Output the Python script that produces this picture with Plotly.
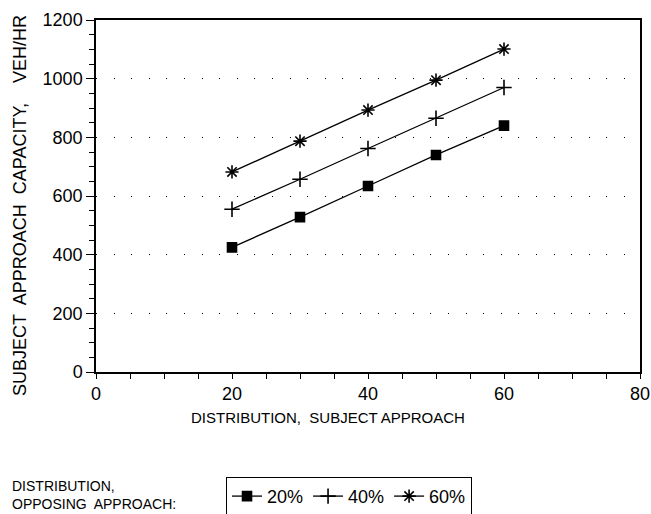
import plotly.graph_objects as go

x_vals = [20, 30, 40, 50, 60]
cap_20 = [425, 528, 634, 740, 840]
cap_40 = [555, 657, 762, 865, 970]
cap_60 = [682, 787, 893, 995, 1101]
series_names = ["20%", "40%", "60%"]
y_ticks = [0, 200, 400, 600, 800, 1000, 1200]
x_ticks = [0, 20, 40, 60, 80]

FONT = "Liberation Sans, Arial, sans-serif"

fig = go.Figure()
symbols = ["square", "cross-thin", "asterisk-open"]
sizes = [9, 11, 11]
for name, ys, sym, sz in zip(series_names, [cap_20, cap_40, cap_60], symbols, sizes):
    fig.add_trace(go.Scatter(
        x=x_vals, y=ys, name=name, mode="lines+markers",
        line=dict(color="black", width=1.3),
        marker=dict(symbol=sym, size=sz, color="black",
                    line=dict(color="black", width=1.6)),
    ))

fig.update_layout(
    width=651, height=514,
    margin=dict(l=96, r=11, t=20, b=142, autoexpand=False),
    paper_bgcolor="white", plot_bgcolor="white",
    font=dict(family=FONT, size=16, color="black"),
    showlegend=True,
    legend=dict(orientation="h", x=0.239, y=-0.298, xanchor="left", yanchor="top",
                bordercolor="black", borderwidth=1, font=dict(size=18),
                itemwidth=30, tracegroupgap=0),
)

fig.update_xaxes(
    range=[0, 80], tickvals=x_ticks, ticktext=[str(v) for v in x_ticks],
    ticks="outside", ticklen=5, tickwidth=1, tickcolor="black",
    minor=dict(dtick=5, ticks="outside", ticklen=5, tickwidth=1, tickcolor="black", showgrid=False),
    showline=True, linecolor="black", linewidth=1.5, mirror=True,
    showgrid=False, zeroline=False, automargin=False, ticklabeloverflow="allow",
    tickfont=dict(size=18),
)
fig.update_yaxes(
    range=[0, 1200], tickvals=y_ticks, ticktext=[str(v) for v in y_ticks],
    ticks="outside", ticklen=8, tickwidth=1, tickcolor="black",
    minor=dict(dtick=50, ticks="outside", ticklen=5, tickwidth=1, tickcolor="black", showgrid=False),
    showline=True, linecolor="black", linewidth=1.5, mirror=True,
    showgrid=True, gridcolor="black", gridwidth=1, griddash="1px,16.6px",
    zeroline=False, automargin=False, ticklabeloverflow="allow",
    tickfont=dict(size=18),
)

# y-axis title
fig.add_annotation(
    xref="paper", yref="paper", x=(20 - 96) / 544, y=(372 - 206) / 352,
    text="SUBJECT  APPROACH  CAPACITY,    VEH/HR", showarrow=False, textangle=-90,
    xanchor="center", yanchor="middle", font=dict(size=18),
)
# x-axis title
fig.add_annotation(
    xref="paper", yref="paper", x=(328 - 96) / 544, y=(372 - 417) / 352,
    text="DISTRIBUTION,  SUBJECT APPROACH", showarrow=False,
    xanchor="center", yanchor="middle", font=dict(size=15),
)
fig.add_annotation(
    xref="paper", yref="paper", x=(10 - 96) / 544, y=(372 - 476) / 352,
    text="DISTRIBUTION,<br>OPPOSING  APPROACH:", showarrow=False, align="left",
    xanchor="left", yanchor="top", font=dict(size=14),
)

fig.write_html(
    "out.html",
    config={"displayModeBar": False},
    post_script="document.body.style.margin='0';document.body.style.overflow='hidden';",
)
